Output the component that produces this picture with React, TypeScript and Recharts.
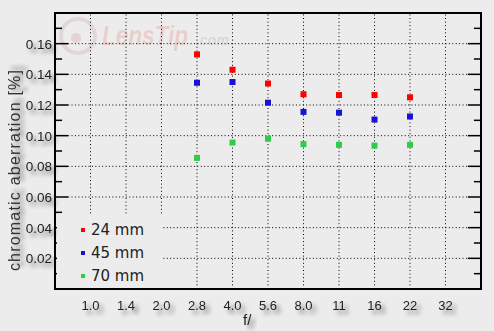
import React from "react";
import {
  ScatterChart,
  Scatter,
  XAxis,
  YAxis,
  ReferenceLine,
  ReferenceArea,
  Legend,
} from "recharts";

const apertures = ["1.0", "1.4", "2.0", "2.8", "4.0", "5.6", "8.0", "11", "16", "22", "32"];
const ca24 = [null, null, null, 0.153, 0.143, 0.134, 0.127, 0.1265, 0.1265, 0.125, null];
const ca45 = [null, null, null, 0.1345, 0.135, 0.1215, 0.1155, 0.115, 0.1105, 0.1125, null];
const ca70 = [null, null, null, 0.0855, 0.0955, 0.098, 0.0945, 0.094, 0.0935, 0.094, null];

const majorTicks = [0.02, 0.04, 0.06, 0.08, 0.1, 0.12, 0.14, 0.16];
const minorTicks = [0.01, 0.03, 0.05, 0.07, 0.09, 0.11, 0.13, 0.15, 0.17];

const series = [
  { name: "24 mm", values: ca24, color: "#ff0000" },
  { name: "45 mm", values: ca45, color: "#1414d2" },
  { name: "70 mm", values: ca70, color: "#2ecc4a" },
];

const BG = "#ececec";
const FONT = "'Liberation Sans', Arial, sans-serif";
const xTicks = apertures.map((_, i) => i + 1);

const toPoints = (vals: (number | null)[]) =>
  vals
    .map((v, i) => (v == null ? null : { x: i + 1, y: v }))
    .filter(Boolean) as { x: number; y: number }[];

const XTick = (p: any) => (
  <text
    x={p.x}
    y={p.y + 21}
    textAnchor="middle"
    fontSize={13}
    fontFamily={FONT}
    fill="#222"
    filter="url(#shadow)"
  >
    {apertures[p.payload.value - 1]}
  </text>
);

const YTick = (p: any) => (
  <text
    x={p.x - 3}
    y={p.y + 5}
    textAnchor="end"
    fontSize={13.5}
    fontFamily={FONT}
    fill="#222"
    filter="url(#shadow)"
  >
    {p.payload.value.toFixed(2)}
  </text>
);

const LegendBox = () => (
  <div style={{ background: BG, padding: "4px 0 0 24px", height: 74, boxSizing: "border-box" }}>
    {series.map((s) => (
      <div key={s.name} style={{ display: "flex", alignItems: "center", height: 23 }}>
        <span style={{ width: 4, height: 4, background: s.color, marginRight: 6 }} />
        <span style={{ fontFamily: "'DejaVu Sans', sans-serif", fontSize: 15, color: "#222" }}>
          {s.name}
        </span>
      </div>
    ))}
  </div>
);

export default function App() {
  return (
    <div style={{ position: "absolute", left: 0, top: 0, width: 494, height: 331, background: BG }}>
      <ScatterChart width={494} height={331} margin={{ top: 13, right: 13, left: 0, bottom: 0 }}>
        <defs>
          <filter id="shadow" x="-30%" y="-30%" width="180%" height="180%">
            <feGaussianBlur in="SourceAlpha" stdDeviation="2.2" />
            <feOffset dx="4" dy="4" result="b" />
            <feComponentTransfer>
              <feFuncA type="linear" slope="0.5" />
            </feComponentTransfer>
            <feMerge>
              <feMergeNode />
              <feMergeNode in="SourceGraphic" />
            </feMerge>
          </filter>
        </defs>
        <g opacity={0.18}>
          <circle cx={78} cy={36} r={17} fill="none" stroke="#b08080" strokeWidth={4} />
          <circle cx={76} cy={38} r={5} fill="#d06060" />
          <text
            x={102}
            y={45}
            fontSize={27}
            fontStyle="italic"
            fontWeight="bold"
            fontFamily={FONT}
            fill="#e05040"
            textLength={86}
            lengthAdjust="spacingAndGlyphs"
          >
            LensTip
          </text>
          <text
            x={196}
            y={45}
            fontSize={14}
            fontStyle="italic"
            fontWeight="bold"
            fontFamily={FONT}
            fill="#808080"
            textLength={33}
            lengthAdjust="spacingAndGlyphs"
          >
            .com
          </text>
        </g>
        <XAxis
          type="number"
          dataKey="x"
          domain={[0, 12]}
          ticks={xTicks}
          height={42}
          tickLine={false}
          axisLine={false}
          tickSize={0}
          tickMargin={0}
          tick={<XTick />}
          interval={0}
          label={({ viewBox }: any) => (
            <text x={viewBox.x + 188} y={viewBox.y + 36} fontSize={15} fontFamily={FONT} fill="#222" filter="url(#shadow)">
              f/
            </text>
          )}
        />
        <YAxis
          type="number"
          dataKey="y"
          domain={[0, 0.18]}
          ticks={majorTicks}
          width={55}
          tickLine={false}
          axisLine={false}
          tickSize={0}
          tickMargin={0}
          tick={<YTick />}
          interval={0}
          label={({ viewBox }: any) => (
            <text
              x={14}
              y={viewBox.y + 157}
              textAnchor="middle"
              transform={`rotate(-90 14 ${viewBox.y + 157})`}
              dominantBaseline="central"
              fontSize={16}
              letterSpacing={1.2}
              fontFamily={FONT}
              fill="#333"
              filter="url(#shadow)"
            >
              chromatic aberration [%]
            </text>
          )}
        />
        {majorTicks.map((v) => (
          <ReferenceLine
            key={"g" + v}
            segment={[{ x: 0.37, y: v }, { x: 11.63, y: v }]}
            stroke="#000"
            strokeDasharray="1 2.4"
          />
        ))}
        {xTicks.map((v) => (
          <ReferenceLine key={"v" + v} x={v} stroke="#000" strokeDasharray="1 2.6" />
        ))}
        {majorTicks.map((v) => (
          <ReferenceLine key={"ml" + v} segment={[{ x: 0, y: v }, { x: 0.37, y: v }]} stroke="#000" strokeWidth={1.5} />
        ))}
        {majorTicks.map((v) => (
          <ReferenceLine key={"mr" + v} segment={[{ x: 11.63, y: v }, { x: 12, y: v }]} stroke="#000" strokeWidth={1.5} />
        ))}
        {minorTicks.map((v) => (
          <ReferenceLine key={"nl" + v} segment={[{ x: 0, y: v }, { x: 0.2, y: v }]} stroke="#000" strokeWidth={1.5} />
        ))}
        {minorTicks.map((v) => (
          <ReferenceLine key={"nr" + v} segment={[{ x: 11.8, y: v }, { x: 12, y: v }]} stroke="#000" strokeWidth={1.5} />
        ))}
        <ReferenceArea x1={0} x2={12} y1={0} y2={0.18} fill="none" stroke="#000" strokeWidth={2} />
        {series.map((s) => (
          <Scatter
            key={s.name}
            name={s.name}
            data={toPoints(s.values)}
            fill={s.color}
            isAnimationActive={false}
            shape={(p: any) => <rect x={p.cx - 3} y={p.cy - 3} width={6} height={6} fill={s.color} />}
          />
        ))}
        <Legend
          layout="vertical"
          align="center"
          verticalAlign="middle"
          content={<LegendBox />}
          wrapperStyle={{ left: 57, top: 214, width: 105, height: 74 }}
        />
      </ScatterChart>
    </div>
  );
}
